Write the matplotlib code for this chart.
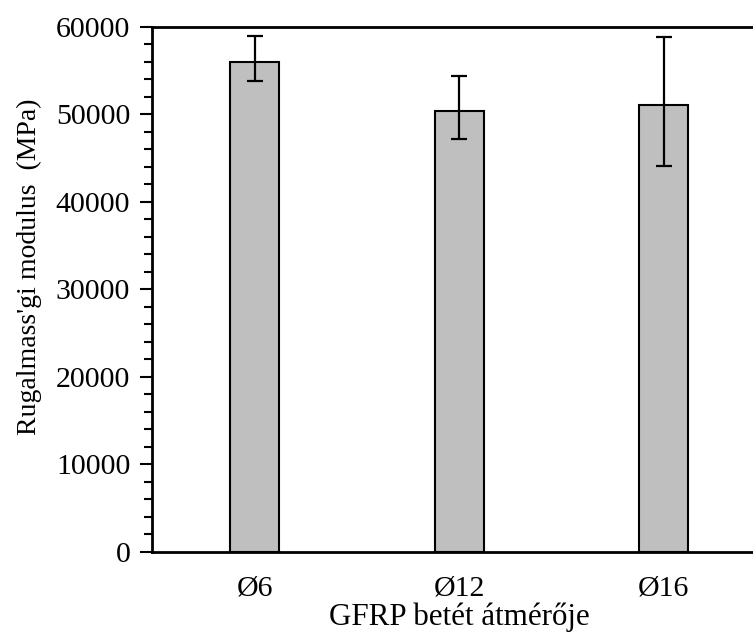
import matplotlib
matplotlib.use("Agg")
import matplotlib.pyplot as plt
from matplotlib.ticker import MultipleLocator

plt.rcParams['font.family'] = ['Liberation Serif', 'DejaVu Serif']

# adatok
categories = ["Ø6", "Ø12", "Ø16"]
values = [56000, 50400, 51000]
err_upper = [2950, 3900, 7850]
err_lower = [2200, 3200, 6900]

fig = plt.figure(figsize=(7.53, 6.34), dpi=100)
ax = fig.add_axes([0.2025, 0.130, 0.7975, 0.828])

x = range(len(categories))
ax.bar(x, values, width=0.24, color="#bfbfbf", edgecolor="black", linewidth=1.5,
       yerr=[err_lower, err_upper], capsize=6,
       error_kw=dict(elinewidth=1.6, capthick=1.6, ecolor="black"), zorder=2)

ax.set_xlim(-0.5, 2.436)
ax.set_ylim(0, 60000)
ax.set_xticks(list(x))
ax.set_xticklabels(categories)
ax.yaxis.set_major_locator(MultipleLocator(10000))
ax.yaxis.set_minor_locator(MultipleLocator(2000))

ax.tick_params(axis="x", length=0, labelsize=21.5, pad=17)
ax.tick_params(axis="y", which="major", length=9, width=1.5, labelsize=21.5,
               direction="out", pad=7)
ax.tick_params(axis="y", which="minor", length=6, width=1.5, direction="out")

for s in ["left", "bottom", "top"]:
    ax.spines[s].set_linewidth(2)
ax.spines["right"].set_visible(False)

ax.set_xlabel("GFRP betét átmérője", fontsize=22.3, labelpad=1)
ax.xaxis.label.set_x(0.511)
ax.set_ylabel("Rugalmass'gi modulus  (MPa)", fontsize=20)
ax.yaxis.set_label_coords(-0.184, 0.542)

fig.savefig("out.png", dpi=100)
